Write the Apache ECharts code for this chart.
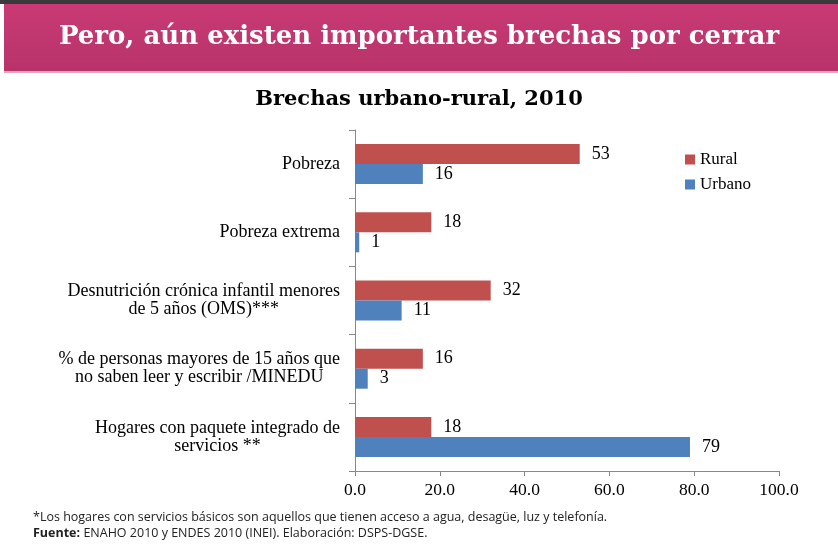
<!DOCTYPE html>
<html>
<head>
<meta charset="utf-8">
<script src="https://cdn.jsdelivr.net/npm/echarts@6/dist/echarts.min.js"></script>
<style>
html, body { margin: 0; padding: 0; background: #fff; }
#chartmain { width: 838px; height: 556px; }
</style>
</head>
<body>
<div id="chartmain"></div>
<script>
var categories = [
	'Pobreza',
	'Pobreza extrema',
	'Desnutrición crónica infantil menores\nde 5 años (OMS)***',
	'% de personas mayores de 15 años que\nno saben leer y escribir /MINEDU',
	'Hogares con paquete integrado de\nservicios **'
];
var rural = [53, 18, 32, 16, 18];
var urbano = [16, 1, 11, 3, 79];
var xTicks = [0, 20, 40, 60, 80, 100];

var serif = '"Liberation Serif", "DejaVu Serif", serif';
var heading = '"DejaVu Serif", serif';
var sans = '"Open Sans", sans-serif';

// etiqueta de valor comun para ambas series
var valueLabel = {
	show : true,
	position : 'right',
	distance : 12,
	fontFamily : serif,
	fontSize : 18,
	color : '#000'
};

var option = {
	backgroundColor : '#ffffff',
	animation : false,
	title : [ {
		text : 'Brechas urbano-rural, 2010',
		left : 'center',
		top : 84,
		textStyle : {
			fontFamily : heading,
			fontSize : 21,
			fontWeight : 'bold',
			color : '#000'
		}
	} ],
	graphic : [ {
		type : 'rect',
		shape : { x : 0, y : 0, width : 838, height : 4 },
		style : { fill : '#3a3a3a' }
	}, {
		type : 'rect',
		shape : { x : 4, y : 4, width : 834, height : 67 },
		style : {
			fill : new echarts.graphic.LinearGradient(0, 0, 0, 1, [
				{ offset : 0, color : '#c93a74' },
				{ offset : 1, color : '#b8336a' }
			])
		}
	}, {
		type : 'rect',
		shape : { x : 4, y : 71, width : 834, height : 2 },
		style : { fill : '#e6a6c0' }
	}, {
		type : 'text',
		left : 'center',
		top : 24,
		style : {
			text : 'Pero, aún existen importantes brechas por cerrar',
			fontFamily : heading,
			fontSize : 26,
			fontWeight : 'bold',
			fill : '#ffffff'
		}
	}, {
		type : 'text',
		left : 33,
		top : 511,
		style : {
			text : '*Los hogares con servicios básicos son aquellos que tienen acceso a agua, desagüe, luz y telefonía.',
			fontFamily : sans,
			fontSize : 12.5,
			fill : '#222'
		}
	}, {
		type : 'text',
		left : 33,
		top : 527,
		style : {
			rich : {
				b : { fontFamily : sans, fontSize : 12.5, fontWeight : 'bold', fill : '#222' },
				n : { fontFamily : sans, fontSize : 12.5, fill : '#222' }
			},
			text : '{b|Fuente:} {n|ENAHO 2010 y ENDES 2010 (INEI). Elaboración: DSPS-DGSE.}'
		}
	} ],
	legend : {
		orient : 'vertical',
		left : 680,
		top : 146,
		itemWidth : 10,
		itemHeight : 10,
		itemGap : 8,
		icon : 'rect',
		textStyle : {
			fontFamily : serif,
			fontSize : 17,
			color : '#000'
		},
		data : [ 'Rural', 'Urbano' ]
	},
	grid : {
		left : 355,
		right : 59,
		top : 130,
		bottom : 85
	},
	xAxis : {
		type : 'value',
		min : 0,
		max : 100,
		interval : 20,
		axisLine : { show : true, lineStyle : { color : '#888' } },
		axisTick : { show : true, length : 5, lineStyle : { color : '#888' } },
		splitLine : { show : false },
		axisLabel : {
			fontFamily : serif,
			fontSize : 17.5,
			color : '#000',
			margin : 10,
			formatter : function(v) {
				return xTicks.indexOf(v) >= 0 ? v.toFixed(1) : '';
			}
		}
	},
	yAxis : {
		type : 'category',
		inverse : true,
		data : categories,
		axisLine : { show : true, lineStyle : { color : '#888' } },
		axisTick : { show : true, length : 6, lineStyle : { color : '#888' } },
		axisLabel : {
			margin : 15,
			formatter : function(v) {
				return v.split('\n').map(function(s) {
					return '{c|' + s + '}';
				}).join('\n');
			},
			rich : {
				c : {
					align : 'center',
					fontFamily : serif,
					fontSize : 18,
					lineHeight : 18,
					color : '#000'
				}
			}
		}
	},
	series : [ {
		name : 'Rural',
		type : 'bar',
		data : rural,
		barWidth : 20,
		barGap : '0%',
		itemStyle : { color : '#c0504d' },
		label : valueLabel
	}, {
		name : 'Urbano',
		type : 'bar',
		data : urbano,
		barWidth : 20,
		barGap : '0%',
		itemStyle : { color : '#4f81bd' },
		label : valueLabel
	} ]
};

var myChart = echarts.init(document.getElementById('chartmain'));
myChart.setOption(option);
</script>
</body>
</html>
